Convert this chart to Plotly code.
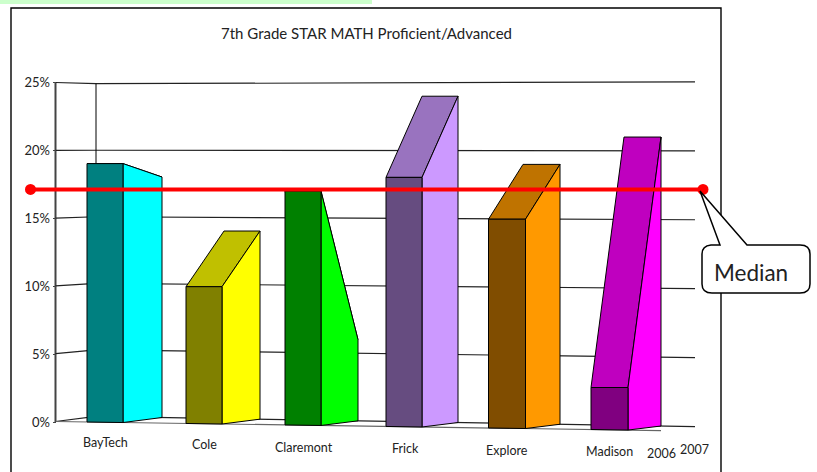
import plotly.graph_objects as go

# ---- data ----
CATEGORIES = ["BayTech", "Cole", "Claremont", "Frick", "Explore", "Madison"]
VALUES_2006 = [19, 10, 17, 18, 15, 3]
VALUES_2007 = [18, 14, 6, 24, 19, 21]
SERIES_NAMES = ["2006", "2007"]
TICK_VALUES = [0, 5, 10, 15, 20, 25]
TICK_LABELS = ["0%", "5%", "10%", "15%", "20%", "25%"]
MEDIAN = 17.1
TITLE = "7th Grade STAR MATH Proficient/Advanced"

# ---- style and oblique projection ----
FRONT_COLORS = ["#008080", "#808000", "#008000", "#664C80", "#804D00", "#800080"]
TOP_COLORS = ["#00BFBF", "#C0C000", "#00BF00", "#9973BF", "#BF7300", "#BF00BF"]
SIDE_COLORS = ["#00FFFF", "#FFFF00", "#00FF00", "#CC99FF", "#FF9900", "#FF00FF"]
BAR_LEFT = [87, 186, 285, 386, 488.5, 591]
BAR_WIDTH = [36, 36, 36, 36, 37, 37]
BAR_RIGHT_BACK = [162, 260, 358, 458, 560, 661]
PX_PER_UNIT = 13.6
Y0_PX = 422.0
PLOT_L, PLOT_R = 55.5, 695
FONT = "Lato, Carlito, sans-serif"
TEXT = "#222222"
W, H = 817, 472


def to_axis(py):
    return (Y0_PX - py) / PX_PER_UNIT


def front_y(x, v):
    t = (x - 87) / 504
    return to_axis(422 + 7.5 * t - v * (13.6 + 0.4 * t))


def back_y(x, v):
    t = (x - 162) / 499
    return to_axis(417.5 + 8.5 * t - v * (13.36 + 0.4 * t))


fig = go.Figure()


def poly(xs, ys, fill, width=1):
    fig.add_trace(go.Scatter(
        x=xs + xs[:1], y=ys + ys[:1], mode="lines", fill="toself", fillcolor=fill,
        line=dict(color="#000000", width=width), hoverinfo="skip",
    ))


def line(xs, ys, color="#222222", width=1.2):
    fig.add_trace(go.Scatter(
        x=xs, y=ys, mode="lines", line=dict(color=color, width=width), hoverinfo="skip",
    ))


# value axis line
line([PLOT_L, PLOT_L], [0, 25], "#444444", 2)

# wall grid lines and floor
for v in TICK_VALUES:
    line([PLOT_L, 96, PLOT_R],
         [to_axis(421.5 - v * 13.56), back_y(96, v), back_y(PLOT_R, v)])
line([96, 96], [back_y(96, 0), back_y(96, 25)], "#000000", 1)
line([PLOT_L, 87, BAR_RIGHT_BACK[-1]],
     [to_axis(421.5), front_y(87, 0), front_y(BAR_RIGHT_BACK[-1], 0)], "#666666", 1.2)

# bars: top, side, front for each category
for i, name in enumerate(CATEGORIES):
    a, b = VALUES_2006[i], VALUES_2007[i]
    x0, x1 = BAR_LEFT[i], BAR_LEFT[i] + BAR_WIDTH[i]
    x3 = BAR_RIGHT_BACK[i]
    x2 = x3 - BAR_WIDTH[i]
    poly([x0, x1, x3, x2],
         [front_y(x0, a), front_y(x0, a), back_y(x3, b), back_y(x3, b)], TOP_COLORS[i])
    poly([x1, x3, x3, x1],
         [front_y(x0, a), back_y(x3, b), back_y(x3, 0), front_y(x1, 0)], SIDE_COLORS[i])
    poly([x0, x1, x1, x0],
         [front_y(x0, a), front_y(x0, a), front_y(x1, 0), front_y(x0, 0)], FRONT_COLORS[i])

# median line
fig.add_trace(go.Scatter(
    x=[30.5, 703], y=[MEDIAN, MEDIAN], mode="lines+markers",
    line=dict(color="#FF0000", width=4), marker=dict(color="#FF0000", size=11),
    hoverinfo="skip",
))

# category and series labels
LABEL_X = [105.5, 204, 304, 405, 507, 609.5]
LABEL_PY = [442, 444.5, 447, 448, 450, 451.5]
annotations = [
    dict(x=LABEL_X[i], y=to_axis(LABEL_PY[i]), text=c, showarrow=False, xref="x", yref="y",
         font=dict(family=FONT, size=12.5, color=TEXT))
    for i, c in enumerate(CATEGORIES)
]
annotations += [
    dict(x=661.5, y=to_axis(453), text=SERIES_NAMES[0], showarrow=False, xref="x", yref="y",
         font=dict(family=FONT, size=12.5, color=TEXT)),
    dict(x=694, y=to_axis(449), text=SERIES_NAMES[1], showarrow=False, xref="x", yref="y",
         font=dict(family=FONT, size=12.5, color=TEXT)),
    dict(x=750.5, y=to_axis(272), text="Median", showarrow=False, xref="x", yref="y",
         font=dict(family=FONT, size=22.5, color=TEXT)),
]


def P(a, b):
    return f"{a:.2f},{to_axis(b):.4f}"


# callout outline (drawn in axis coordinates)
callout = (
    f"M {P(700, 191)} L {P(720, 245)} L {P(711, 245)} Q {P(702, 246)} {P(702, 254)} "
    f"L {P(702, 284)} Q {P(702, 293)} {P(712, 293)} L {P(800, 293)} Q {P(810, 293)} {P(810, 284)} "
    f"L {P(810, 254)} Q {P(810, 245)} {P(800, 245)} L {P(747, 245)} Z"
)

fig.update_layout(
    width=W, height=H, margin=dict(l=0, r=0, t=0, b=0, pad=0),
    paper_bgcolor="#FFFFFF", plot_bgcolor="rgba(0,0,0,0)", showlegend=False,
    hovermode=False,
    title=dict(text=TITLE, x=366.5 / W, xanchor="center", y=1 - 34 / H, yanchor="middle",
               font=dict(family=FONT, size=15, color=TEXT)),
    xaxis=dict(range=[0, W], domain=[0, 1], visible=False, fixedrange=True),
    yaxis=dict(range=[to_axis(H), to_axis(0)], domain=[0, 1], anchor="free", position=PLOT_L / W,
               tickvals=TICK_VALUES, ticktext=TICK_LABELS, showgrid=False,
               zeroline=False, showline=False, ticks="outside", ticklen=3,
               tickcolor="#444444", fixedrange=True, automargin=False,
               tickfont=dict(family=FONT, size=13, color=TEXT)),
    annotations=annotations,
    shapes=[
        dict(type="rect", xref="x", yref="y", x0=-2, x1=372, y0=to_axis(-2), y1=to_axis(4),
             fillcolor="#CCFFCC", line=dict(width=0), layer="below"),
        dict(type="rect", xref="x", yref="y", x0=11, x1=721, y0=to_axis(8), y1=to_axis(490),
             line=dict(color="#000000", width=1.4), layer="below"),
        dict(type="path", xref="x", yref="y", path=callout, fillcolor="#FFFFFF",
             line=dict(color="#000000", width=1.5), layer="above"),
    ],
)

fig.write_html("out.html", config=dict(displayModeBar=False),
               post_script="document.body.style.margin='0';document.body.style.overflow='hidden';")
